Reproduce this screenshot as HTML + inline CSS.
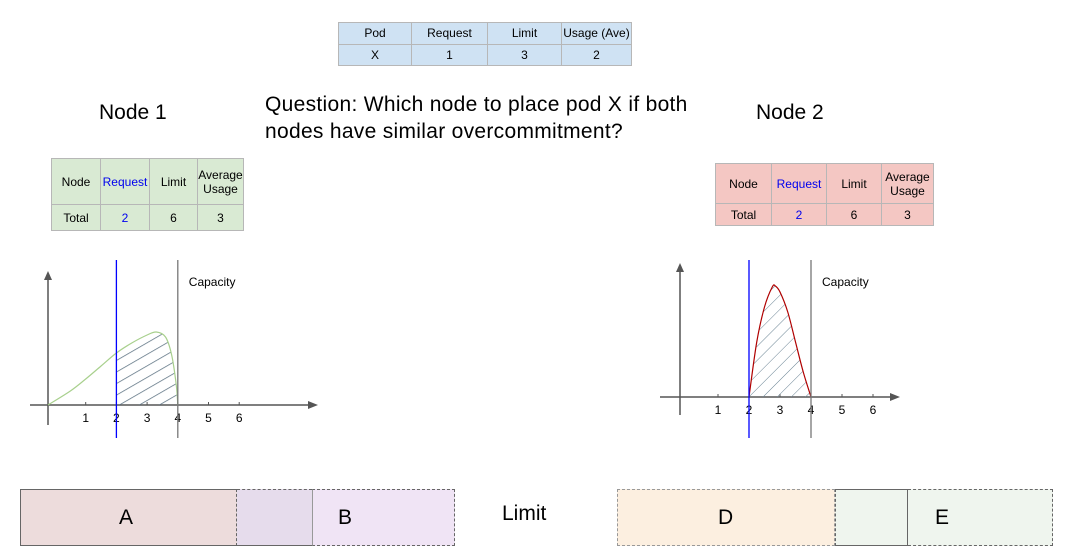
<!DOCTYPE html>
<html><head><meta charset="utf-8"><style>
body{margin:0;width:1067px;height:557px;background:#fff;font-family:"Liberation Sans",sans-serif;position:relative;overflow:hidden}
.abs{position:absolute}
table{border-collapse:collapse;position:absolute;font-size:12px;text-align:center}
td{border:1px solid #b7b7b7;padding:0}
.blue{color:#0000ee}
.t{position:absolute;white-space:nowrap}
</style></head><body>
<table style="left:338px;top:22px;width:294px;height:44px;background:#cfe2f3;border:1px solid #999">
<tr><td style="width:72px">Pod</td><td style="width:75px">Request</td><td style="width:73px">Limit</td><td>Usage (Ave)</td></tr>
<tr><td>X</td><td>1</td><td>3</td><td>2</td></tr></table>
<div class="t" style="left:99px;top:101px;font-size:21px">Node 1</div>
<div class="t" style="left:756px;top:101px;font-size:21px">Node 2</div>
<div class="t" style="left:265px;top:91px;font-size:21px;line-height:27px;letter-spacing:0.3px">Question: Which node to place pod X if both<br>nodes have similar overcommitment?</div>
<table style="left:51px;top:158px;width:193px;height:73px;background:#d9ead3;border:1px solid #ccc">
<tr style="height:46px"><td style="width:48px">Node</td><td class="blue" style="width:48px">Request</td><td style="width:47px">Limit</td><td>Average<br>Usage</td></tr>
<tr><td>Total</td><td class="blue">2</td><td>6</td><td>3</td></tr></table>
<table style="left:715px;top:163px;width:219px;height:63px;background:#f4c7c3;border:1px solid #999">
<tr style="height:40px"><td style="width:55px">Node</td><td class="blue" style="width:54px">Request</td><td style="width:54px">Limit</td><td>Average<br>Usage</td></tr>
<tr><td>Total</td><td class="blue">2</td><td>6</td><td>3</td></tr></table>

<svg id="c" class="abs" style="left:0;top:0" width="1067" height="557">
<defs>
<pattern id="h1" width="10" height="10" patternUnits="userSpaceOnUse" patternTransform="rotate(-30)"><line x1="0" y1="0" x2="10" y2="0" stroke="#5a7080" stroke-width="1.5"/></pattern>
<pattern id="h2" width="10" height="10" patternUnits="userSpaceOnUse" patternTransform="rotate(-45)"><line x1="0" y1="0" x2="10" y2="0" stroke="#6a8494" stroke-width="1"/></pattern>
</defs>
</svg>

<div class="abs" style="left:20px;top:489px;width:217px;height:57px;background:#eddcdc;border:1px solid #666;border-right:1px dashed #666;box-sizing:border-box"></div>
<div class="abs" style="left:237px;top:489px;width:75px;height:57px;background:#e6dcec;border-top:1px dashed #666;border-bottom:1px solid #666;box-sizing:border-box"></div>
<div class="abs" style="left:312px;top:489px;width:143px;height:57px;background:#f0e4f5;border:1px dashed #666;border-left:1px solid #999;box-sizing:border-box"></div>
<div class="t" style="left:119px;top:506px;font-size:21px">A</div>
<div class="t" style="left:338px;top:506px;font-size:21px">B</div>
<div class="t" style="left:502px;top:502px;font-size:21px">Limit</div>
<div class="abs" style="left:617px;top:489px;width:218px;height:57px;background:#fcefe0;border:1px dashed #999;box-sizing:border-box"></div>
<div class="abs" style="left:835px;top:489px;width:73px;height:57px;background:#eff5ee;border:1px solid #666;border-left:1px dashed #666;box-sizing:border-box"></div>
<div class="abs" style="left:908px;top:489px;width:145px;height:57px;background:#eff5ee;border:1px dashed #666;border-left:none;box-sizing:border-box"></div>
<div class="t" style="left:718px;top:506px;font-size:21px">D</div>
<div class="t" style="left:935px;top:506px;font-size:21px">E</div>

<script>
const ticks=[1,2,3,4,5,6];
const node1X=[-0.23,0.5,1,1.5,2,2.5,3,3.3,3.6,3.8,3.95,4];
const node1Y=[0,1.4,2.6,3.9,5.2,6.2,7.0,7.3,6.8,5.0,2.0,0];
const node2X=[2,2.25,2.5,2.75,2.85,3,3.25,3.5,3.75,4];
const node2Y=[0,5.5,9,11,11.1,10.5,8.5,5.5,2.5,0];
const requestVal=2, capacityVal=4;
const svg=document.getElementById('c');
const NS='http://www.w3.org/2000/svg';
function mk(t,a,p){const e=document.createElementNS(NS,t);for(const k in a)e.setAttribute(k,a[k]);(p||svg).appendChild(e);return e;}
function smooth(p){let d='M'+p[0].join(',');for(let i=0;i<p.length-1;i++){const a=p[i-1]||p[i],b=p[i],c=p[i+1],e=p[i+2]||c;
 d+=` C${b[0]+(c[0]-a[0])/6},${b[1]+(c[1]-a[1])/6} ${c[0]-(e[0]-b[0])/6},${c[1]-(e[1]-b[1])/6} ${c[0]},${c[1]}`;}return d;}
function chart(o){
  const sx=v=>o.x0+v*o.u, sy=v=>o.y0-v*10;
  const g=mk('g',{});
  
  
  let l=mk('line',{x1:o.ax,y1:o.yt+8,x2:o.ax,y2:o.yb,stroke:'#555','stroke-width':1.5},g);
  
  mk('polygon',{points:`${o.ax-4},${o.yt+9} ${o.ax+4},${o.yt+9} ${o.ax},${o.yt}`,fill:'#555'},g);
  l=mk('line',{x1:o.xl,y1:o.y0,x2:o.xr-9,y2:o.y0,stroke:'#555','stroke-width':1.5},g);
  
  mk('polygon',{points:`${o.xr-10},${o.y0-4} ${o.xr-10},${o.y0+4} ${o.xr},${o.y0}`,fill:'#555'},g);
  ticks.forEach(t=>{mk('line',{x1:sx(t),y1:o.y0-3,x2:sx(t),y2:o.y0,stroke:'#555'},g);
    const tx=mk('text',{x:sx(t),y:o.y0+17,'text-anchor':'middle','font-size':12,'font-family':'Liberation Sans'},g);tx.textContent=t;
    });
  const pts=o.X.map((x,i)=>[sx(x),sy(o.Y[i])]);
  const d=smooth(pts);
  const hp=[];o.X.forEach((x,i)=>{if(x>=requestVal)hp.push([sx(x),sy(o.Y[i])]);});
  if(o.X[0]<requestVal){let i=o.X.findIndex(x=>x>=requestVal);hp[0]=[sx(requestVal),sy(o.Y[i])];}
  const hd=smooth(hp)+` L${sx(requestVal)},${o.y0} Z`;
  const ha=mk('path',{d:hd,fill:`url(#${o.pat})`},g);
  
  const c=mk('path',{d,fill:'none',stroke:o.col,'stroke-width':1.2,'stroke-linejoin':'round'},g);
  
  l=mk('line',{x1:sx(requestVal),y1:260,x2:sx(requestVal),y2:438,stroke:'#0000ff','stroke-width':1.3},g);
  
  l=mk('line',{x1:sx(capacityVal),y1:260,x2:sx(capacityVal),y2:438,stroke:'#777','stroke-width':1.3},g);
  
  const ct=mk('text',{x:sx(capacityVal)+11,y:286,'font-size':12,'font-family':'Liberation Sans'},g);ct.textContent='Capacity';
  
}
chart({name:'node1-chart',x0:55,u:30.7,y0:405,ax:48,yt:271,yb:425,xl:30,xr:318,X:node1X,Y:node1Y,col:'#a8d08d',pat:'h1'});
chart({name:'node2-chart',x0:687,u:31,y0:397,ax:680,yt:263,yb:415,xl:660,xr:900,X:node2X,Y:node2Y,col:'#b00000',pat:'h2'});
</script>
</body></html>
